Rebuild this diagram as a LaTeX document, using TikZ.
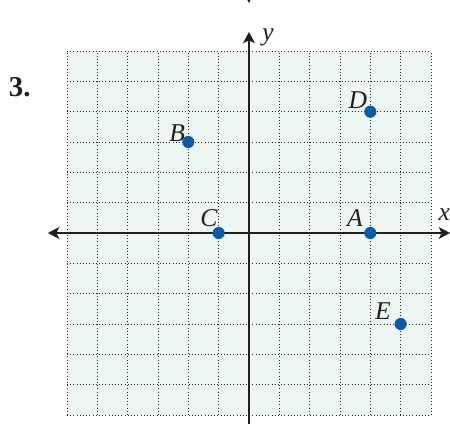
\documentclass[tikz,border=0pt]{standalone}
\usepackage{fontspec}
\setmainfont{Liberation Serif}
\usetikzlibrary{arrows.meta}
\definecolor{gridbg}{HTML}{EDF6F2}
\definecolor{dotblue}{HTML}{0A5AA8}
\definecolor{axisk}{HTML}{231F20}
\definecolor{gridk}{HTML}{2A2A2A}
\tikzset{
  pt/.style={circle, fill=dotblue, inner sep=0pt, minimum size=0.4cm},
  lbl/.style={font=\fontsize{24}{28}\selectfont\itshape, text=axisk, inner sep=0pt},
  axis/.style={line width=2.6pt, draw=axisk},
  tipstyle/.style={-{Stealth[length=10.5pt,width=11pt,inset=2.5pt]}},
  gridline/.style={draw=gridk, line width=0.8pt, dash pattern=on 0.9pt off 2.1pt}
}
\begin{document}
\begin{tikzpicture}[x=1cm,y=1cm]
\useasboundingbox (-8.209,-6.264) rectangle (6.627,7.682);
% grid background
\fill[gridbg] (-6,-6) rectangle (6,6);
\foreach \i in {-6,...,6} {
  \draw[gridline] (\i,-6) -- (\i,6);
  \draw[gridline] (-6,\i) -- (6,\i);
}
% axes
\coordinate (xl) at (-6.63,0);
\coordinate (xr) at (6.63,0);
\coordinate (yb) at (0,-6.6);
\coordinate (yt) at (0,6.63);
\coordinate (yb0) at (0,0);
\draw[axis, tipstyle] (yb0) -- (xl);
\draw[axis, tipstyle] (yb0) -- (xr);
\draw[axis, tipstyle] (yb) -- (yt);
% cut-off arrow tip at top edge
\coordinate (tt) at (0,8.2);
\coordinate (tb) at (0,7.58);
\draw[axis, tipstyle] (tt) -- (tb);
% axis labels
\node[lbl] (labx) at (6.44,0.59) {x};
\node[lbl] (laby) at (0.63,6.46) {y};
% problem number
\node[font=\fontsize{27}{31}\selectfont\bfseries, text=axisk, inner sep=0pt] (num) at (-7.56,4.81) {3.};
% points
\node[pt] (A) at (4,0) {};
\node[pt] (B) at (-2,3) {};
\node[pt] (C) at (-1,0) {};
\node[pt] (D) at (4,4) {};
\node[pt] (E) at (5,-3) {};
\node[lbl] (lA) at (3.49,0.5) {A};
\node[lbl] (lB) at (-2.37,3.30) {B};
\node[lbl] (lC) at (-1.32,0.5) {C};
\node[lbl] (lD) at (3.59,4.385) {D};
\node[lbl] (lE) at (4.42,-2.57) {E};
\end{tikzpicture}
\end{document}
